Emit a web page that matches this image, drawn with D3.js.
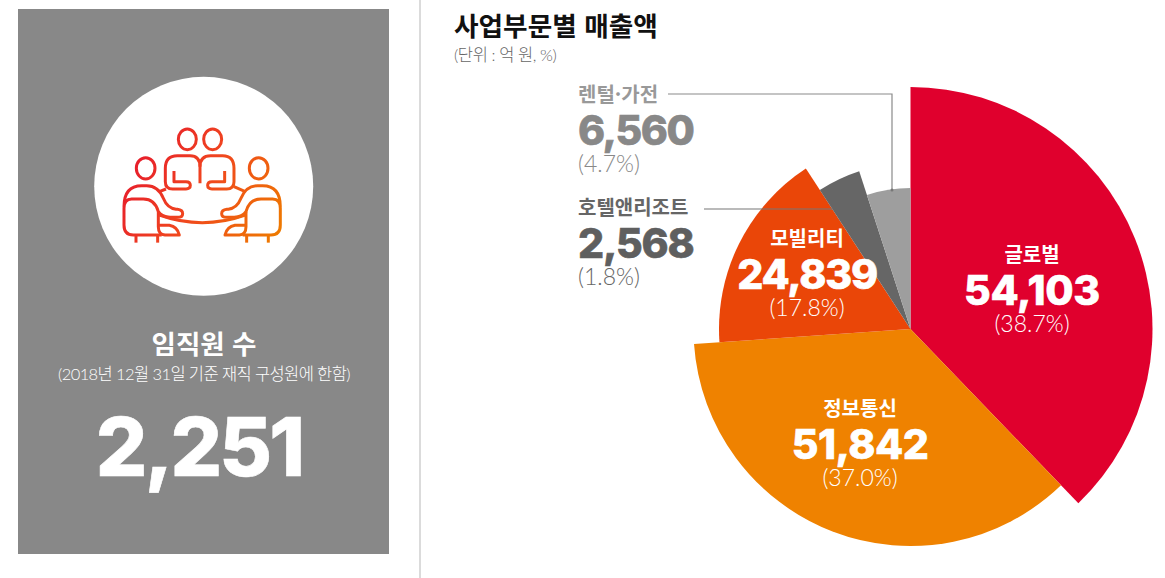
<!DOCTYPE html>
<html lang="ko">
<head>
<meta charset="utf-8">
<script src="https://cdn.jsdelivr.net/npm/d3@7"></script>
<style>
  html, body { margin: 0; background: #fff; }
  svg { display: block; }
  text { font-family: "Noto Sans CJK KR", sans-serif; }
  .num { font-family: Inter, sans-serif; font-weight: 800; stroke: currentColor; stroke-width: 0.6; }
  .pct { font-family: Lato, "Noto Sans CJK KR", sans-serif; font-weight: 300; }
</style>
</head>
<body>
<svg id="chart" width="1165" height="578"></svg>
<script>
// data
const categories = ["글로벌", "정보통신", "모빌리티", "호텔앤리조트", "렌털·가전"];
const sales = [54103, 51842, 24839, 2568, 6560];
const percents = [38.7, 37.0, 17.8, 1.8, 4.7];
// share of the circle each wedge really takes in the picture (the small ones are not to scale)
const drawnShare = [37.8, 36.1, 16.9, 4.2, 5.0];
const staffCount = 2251;

const colors = ["#e0002d", "#ef8200", "#ea4608", "#666666", "#9e9e9e"];
const radii = [242, 217, 191.5, 166, 141];
const cx = 910.5, cy = 329;

const svg = d3.select("#chart");
const fmt = d3.format(",");
const fmtPct = d => "(" + d.toFixed(1) + "%)";

const color = d3.scaleOrdinal(categories, colors);
const radius = d3.scaleOrdinal(categories, radii);

// left panel
svg.append("rect").attr("x", 18).attr("y", 9).attr("width", 371).attr("height", 545).attr("fill", "#888888");
svg.append("circle").attr("cx", 203.7).attr("cy", 186.3).attr("r", 109.5).attr("fill", "#fff");
svg.append("line").attr("x1", 420).attr("x2", 420).attr("y1", 0).attr("y2", 578).attr("stroke", "#cfcfcf").attr("stroke-width", 1.5);

// people icon
const defs = svg.append("defs");
const grad = defs.append("linearGradient").attr("id", "iconGrad")
  .attr("gradientUnits", "userSpaceOnUse")
  .attr("x1", 100).attr("y1", 200).attr("x2", 575).attr("y2", 480);
grad.append("stop").attr("offset", "0").attr("stop-color", "#e4112f");
grad.append("stop").attr("offset", "0.5").attr("stop-color", "#f0451f");
grad.append("stop").attr("offset", "1").attr("stop-color", "#ee7a00");

const icon = svg.append("g")
  .attr("transform", "translate(90,70) scale(0.3333)")
  .attr("fill", "none")
  .attr("stroke", "url(#iconGrad)")
  .attr("stroke-width", 9)
  .attr("stroke-linecap", "butt")
  .attr("stroke-linejoin", "round");

[[292, 208, 27, 31], [368, 208, 27, 31], [167, 295, 28, 32], [506, 295, 28, 32]].forEach(h => {
  icon.append("ellipse").attr("cx", h[0]).attr("cy", h[1]).attr("rx", h[2]).attr("ry", h[3]);
});

const iconPaths = [
  // back row
  "M330 340 V290 Q330 257 300 257 H262 Q226 257 226 295 V335 Q226 357 248 357 H288 Q301 357 301 346 Q301 335 288 335 H252 V303",
  "M330 290 Q330 257 362 257 H398 Q432 257 432 295 V335 Q432 357 410 357 H366 Q353 357 353 346 Q353 335 366 335 H404 V303",
  // table
  "M208 435 Q337 481 466 435",
  "M208 365 L228 357", "M432 350 L466 365",
  // left person
  "M102 410 Q102 347 155 347 H170 Q205 347 220 385 Q232 415 258 418 H262 Q278 420 278 431 Q278 442 262 442 H240 Q215 440 205 425 Q195 387 160 387 H125 Q102 387 102 415 V465 Q102 495 130 495 H215",
  "M205 425 V470 Q205 493 225 495 H268 Q262 470 238 466 H207",
  "M138 495 V518", "M203 495 V518",
  // right person
  "M571 410 Q571 347 518 347 H503 Q468 347 453 385 Q441 415 415 418 H411 Q395 420 395 431 Q395 442 411 442 H433 Q458 440 468 425 Q478 387 513 387 H548 Q571 387 571 415 V465 Q571 495 543 495 H458",
  "M468 425 V470 Q468 493 448 495 H405 Q411 470 435 466 H466",
  "M535 495 V518", "M470 495 V518"
];
icon.selectAll("path").data(iconPaths).join("path").attr("d", d => d);

// panel text
svg.append("text").attr("x", 204).attr("y", 354).attr("text-anchor", "middle")
  .attr("fill", "#fff").attr("font-weight", 700).attr("font-size", 26.5).text("임직원 수");
svg.append("text").attr("class", "pct").attr("x", 204).attr("y", 380).attr("text-anchor", "middle")
  .attr("fill", "#fff").attr("font-size", 16.5).attr("letter-spacing", -0.6).text("(2018년 12월 31일 기준 재직 구성원에 한함)");
svg.append("text").attr("class", "num").attr("x", 199).attr("y", 476).attr("text-anchor", "middle")
  .attr("fill", "#fff").style("color", "#fff").attr("font-size", 81).attr("letter-spacing", -2.8).text(fmt(staffCount));

// title
svg.append("text").attr("x", 454).attr("y", 36).attr("fill", "#111")
  .attr("font-weight", 700).attr("font-size", 26.7).text("사업부문별 매출액");
svg.append("text").attr("class", "pct").attr("x", 454).attr("y", 61).attr("fill", "#666")
  .attr("font-size", 16.5).attr("letter-spacing", -0.4).text("(단위 : 억 원, %)");

// pie
const pie = d3.pie().value(d => d.share).sort(null);
const rows = categories.map((c, i) => ({ name: c, sales: sales[i], pct: percents[i], share: drawnShare[i] }));
const arc = d3.arc().innerRadius(0).outerRadius(d => radius(d.data.name));

svg.append("g").attr("transform", `translate(${cx},${cy})`)
  .selectAll("path").data(pie(rows)).join("path")
  .attr("d", arc)
  .attr("fill", d => color(d.data.name));

// leader lines
const leaders = svg.append("g").attr("fill", "none").attr("stroke-width", 1.2);
leaders.append("path").attr("d", "M668 94 H892 V190").attr("stroke", "#8a8a8a");
leaders.append("path").attr("d", "M704 209 H833").attr("stroke", "#777");
svg.append("circle").attr("cx", 892).attr("cy", 190).attr("r", 1.5).attr("fill", "#777");

// labels: inside wedges centred, outside ones left aligned
const labelPos = {
  "글로벌": { x: 1032, y: 262, anchor: "middle", fill: "#fff", fill2: "#fff", fill3: "#fff", track: -0.3 },
  "정보통신": { x: 860, y: 416, anchor: "middle", fill: "#fff", fill2: "#fff", fill3: "#fff", track: -0.5 },
  "모빌리티": { x: 807, y: 246, anchor: "middle", fill: "#fff", fill2: "#fff", fill3: "#fff", track: -1.2 },
  "호텔앤리조트": { x: 578, y: 215, anchor: "start", fill: "#666", fill2: "#5f5f5f", fill3: "#666", track: -1.2 },
  "렌털·가전": { x: 578, y: 102, anchor: "start", fill: "#999", fill2: "#888", fill3: "#888", track: -1.4 }
};

rows.forEach(r => {
  const p = labelPos[r.name];
  const g = svg.append("g").attr("text-anchor", p.anchor);
  g.append("text").attr("x", p.x).attr("y", p.y).attr("fill", p.fill)
    .attr("font-weight", 700).attr("font-size", 20).text(r.name);
  g.append("text").attr("class", "num").attr("x", p.x).attr("y", p.y + 43).attr("fill", p.fill2)
    .style("color", p.fill2).attr("font-size", 41).attr("letter-spacing", p.track).text(fmt(r.sales));
  g.append("text").attr("class", "pct").attr("x", p.x).attr("y", p.y + 70).attr("fill", p.fill3)
    .attr("font-size", 23).text(fmtPct(r.pct));
});
</script>
</body>
</html>
